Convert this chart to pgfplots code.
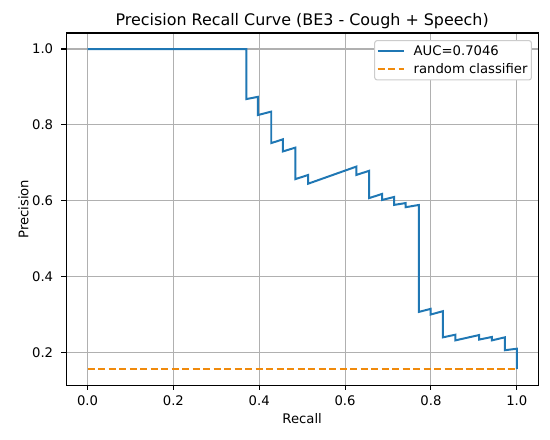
\documentclass[border=0pt]{standalone}
\usepackage{pgfplots}
\pgfplotsset{compat=1.18}
\usepackage{fontspec}
\setmainfont{DejaVu Sans}
\definecolor{mplblue}{HTML}{1F77B4}
\definecolor{mplorange}{HTML}{F08A0C}
\definecolor{gridgray}{HTML}{B0B0B0}
\begin{document}
\begin{tikzpicture}
\begin{axis}[
  scale only axis,
  width=472pt, height=352pt,
  xmin=-0.05, xmax=1.05,
  ymin=0.1138, ymax=1.0422,
  xtick={0,0.2,0.4,0.6,0.8,1.0},
  ytick={0.2,0.4,0.6,0.8,1.0},
  /pgf/number format/assume math mode=true,
  xticklabel style={/pgf/number format/.cd,fixed,fixed zerofill,precision=1,/tikz/.cd,anchor=base,inner sep=0pt,yshift=-16.1pt},
  yticklabel style={/pgf/number format/.cd,fixed,fixed zerofill,precision=1,/tikz/.cd,anchor=east,inner sep=0pt,xshift=-8.1pt},
  ticklabel style={font=\fontsize{13.2}{15}\selectfont},
  tick pos=left,
  tick align=outside,
  major tick length=4.6pt,
  every tick/.style={black, line width=1.06pt},
  axis line style={line width=1.06pt},
  grid=major,
  major grid style={gridgray, line width=1.06pt},
  title={Precision Recall Curve (BE3 - Cough + Speech)},
  title style={font=\fontsize{15.9}{18}\selectfont, at={(0.5,1)}, anchor=base, inner sep=0pt, yshift=1.6pt},
  xlabel={Recall},
  xlabel style={font=\fontsize{13.2}{15}\selectfont, at={(0.5,0)}, anchor=base, inner sep=0pt, yshift=-38.3pt},
  legend cell align=left,
  legend style={at={(0.9866,0.980)}, anchor=north east, draw=black!20, rounded corners=2.5pt,
    line width=1.06pt,
    fill=white, font=\fontsize{13.2}{15}\selectfont, row sep=2.5pt, inner xsep=2pt, inner ysep=3pt},
  legend image code/.code={\draw[#1] (0pt,0pt) -- (26.4pt,0pt); \path (33pt,0pt);},
]
\addplot[mplblue, line width=1.98pt] coordinates {
(0,1.0)
(0.370,1.0)
(0.370,0.868)
(0.397,0.874)
(0.397,0.826)
(0.428,0.835)
(0.428,0.752)
(0.455,0.762)
(0.455,0.730)
(0.484,0.740)
(0.484,0.657)
(0.514,0.668)
(0.514,0.645)
(0.626,0.690)
(0.626,0.668)
(0.656,0.679)
(0.656,0.607)
(0.686,0.618)
(0.686,0.602)
(0.714,0.610)
(0.714,0.589)
(0.741,0.594)
(0.741,0.583)
(0.772,0.589)
(0.772,0.307)
(0.799,0.315)
(0.799,0.300)
(0.828,0.309)
(0.828,0.240)
(0.857,0.247)
(0.857,0.232)
(0.912,0.246)
(0.912,0.234)
(0.942,0.241)
(0.942,0.232)
(0.972,0.240)
(0.972,0.206)
(1.0,0.210)
(1.0,0.156)
};
\addlegendentry{AUC=0.7046}
\addplot[mplorange, line width=1.98pt, dash pattern=on 7.3pt off 3.2pt] coordinates {(0,0.156) (1,0.156)};
\addlegendentry{random classifier}
\end{axis}
\node[rotate=90, anchor=base, inner sep=0pt, font=\fontsize{13.2}{15}\selectfont]
  at ([xshift=-37.7pt]current axis.west) {Precision};
\pgfresetboundingbox
\path (current axis.south west) ++(-66pt,-54pt) coordinate (bl);
\path (current axis.north east) ++(11.7pt,33pt) coordinate (tr);
\path (bl) rectangle (tr);
\end{tikzpicture}
\end{document}
